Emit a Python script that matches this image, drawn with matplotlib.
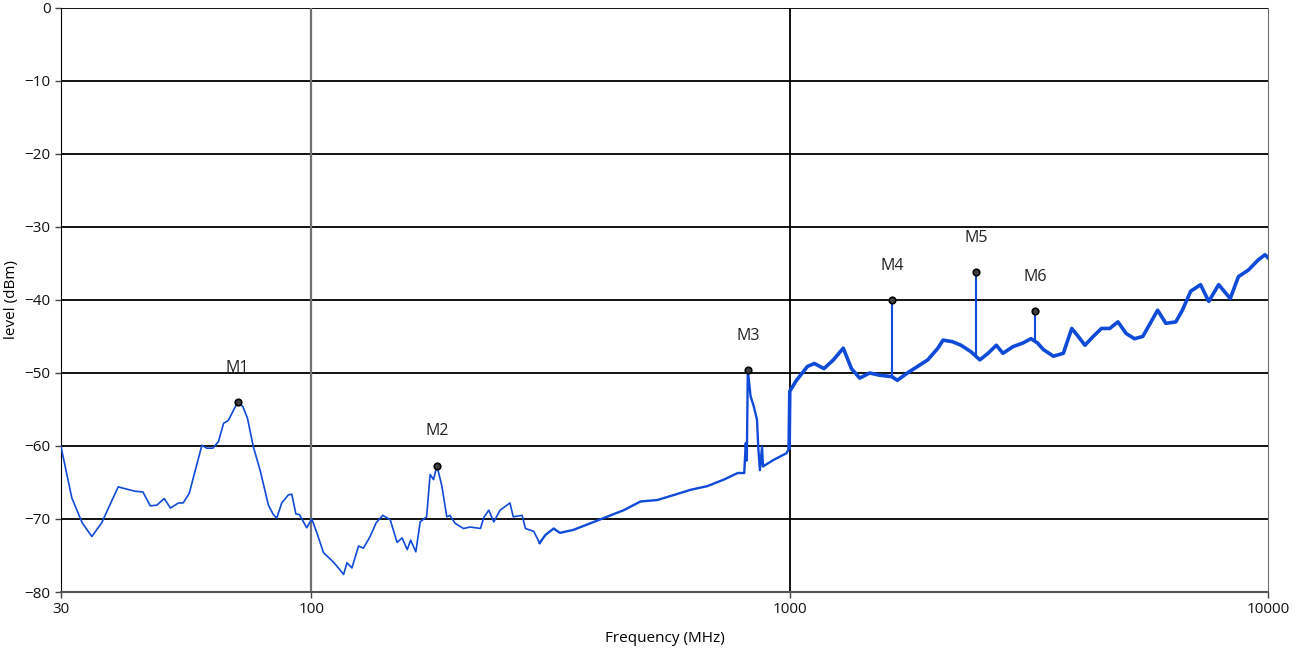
import matplotlib.pyplot as plt

plt.rcParams['font.family'] = ['Open Sans', 'DejaVu Sans']

# Trace (MHz, dBm)
freq_low = [30, 31.6, 33.2, 34.8, 36.5, 39.5, 41.1, 42.9, 44.5, 46.1, 47.6, 49.3,
            50.8, 52.8, 54.0, 55.6, 59.1, 60.5, 62.3, 64.0, 65.6, 67.1, 70.2, 72.0,
            73.6, 75.7, 78.2, 81.4, 83.2, 84.7, 86.8, 89.6, 91.1, 92.9, 94.5, 97.9,
            100.3, 102.8, 106.1, 111.3, 114.0, 116.9, 118.8, 121.7, 125.6, 128.6,
            132.8, 136.8, 141.2, 146.3, 151.2, 154.9, 158.8, 161.4, 165.5, 169.0,
            174.3, 177.3, 180.2, 183.2, 187.6, 192.1, 195, 200.0, 208.1, 215, 225.9,
            229.5, 235.1, 240.9, 248.2, 260.3, 264.5, 276, 280.5, 292, 300.3]
level_low = [-60.1, -67.1, -70.5, -72.4, -70.5, -65.6, -65.9, -66.2, -66.3, -68.2,
             -68.1, -67.2, -68.5, -67.8, -67.8, -66.5, -59.9, -60.3, -60.3, -59.4,
             -56.9, -56.5, -54.0, -54.6, -56.2, -60.1, -63.3, -68.1, -69.3, -69.9,
             -67.8, -66.7, -66.6, -69.3, -69.4, -71.2, -70.0, -71.9, -74.6, -75.9,
             -76.7, -77.6, -76.0, -76.7, -73.7, -74.0, -72.4, -70.5, -69.5, -70.1,
             -73.2, -72.6, -74.2, -72.9, -74.5, -70.4, -69.7, -63.9, -64.6, -62.7,
             -65.5, -69.7, -69.5, -70.6, -71.3, -71.1, -71.3, -69.8, -68.8, -70.4,
             -68.8, -67.8, -69.7, -69.5, -71.3, -71.7, -73.3]

freq_mid = [300.3, 308.6, 321.3, 331, 353, 383, 415, 450, 488, 529, 574, 621, 673,
            729, 779, 804, 810, 814, 818, 829, 842, 855, 860, 867, 876, 880, 926,
            985, 998]
level_mid = [-73.3, -72.2, -71.3, -71.9, -71.5, -70.6, -69.7, -68.8, -67.6, -67.4,
             -66.7, -66.0, -65.5, -64.6, -63.7, -63.7, -59.6, -62.0, -49.6, -53.2,
             -54.6, -56.4, -60.1, -63.3, -60.1, -62.8, -61.9, -61.0, -60.3]

freq_high = [998, 1001, 1034, 1090, 1127, 1180, 1235, 1295, 1347, 1402, 1470, 1541,
             1636, 1680, 1763, 1852, 1945, 2042, 2093, 2187, 2283, 2396, 2499, 2600,
             2705, 2793, 2929, 3073, 3197, 3300, 3394, 3561, 3735, 3889, 4014, 4144,
             4312, 4487, 4669, 4858, 5055, 5260, 5474, 5696, 5880, 6118, 6417, 6624,
             6894, 7230, 7521, 7888, 8340, 8675, 9100, 9545, 9860, 10000]
level_high = [-60.3, -52.5, -51.0, -49.1, -48.7, -49.4, -48.2, -46.6, -49.4, -50.7,
              -50.0, -50.3, -50.5, -51.0, -50.0, -49.1, -48.2, -46.6, -45.5, -45.7,
              -46.2, -47.1, -48.2, -47.3, -46.2, -47.3, -46.4, -45.9, -45.3, -45.9,
              -46.8, -47.7, -47.3, -43.9, -45.0, -46.2, -45.0, -43.9, -43.9, -43.0,
              -44.6, -45.3, -45.0, -43.0, -41.4, -43.2, -43.0, -41.4, -38.8, -37.9,
              -40.2, -37.9, -39.8, -36.8, -35.9, -34.5, -33.8, -34.2]

# Markers
marker_names = ['M1', 'M2', 'M3', 'M4', 'M5', 'M6']
marker_freq = [70.2, 183.2, 818, 1636, 2457, 3265]
marker_level = [-54.0, -62.7, -49.6, -40.0, -36.2, -41.5]
# narrow spikes rising from the noise floor
spike_freq = [1636, 2457, 3265]
spike_base = [-50.5, -47.8, -45.8]
spike_top = [-40.0, -36.2, -41.5]

blue = '#0f4ad8'

fig = plt.figure(figsize=(13.01, 6.54), dpi=100)
ax = fig.add_axes([0.0469, 0.0948, 0.9277, 0.893])

ax.plot(freq_low, level_low, color=blue, lw=1.2, zorder=3)
ax.plot(freq_mid, level_mid, color=blue, lw=1.7, zorder=3)
ax.plot(freq_high, level_high, color=blue, lw=2.6, zorder=3, solid_joinstyle='round')
ax.vlines(spike_freq, spike_base, spike_top, color=blue, lw=1.5, zorder=3)

ax.scatter(marker_freq, marker_level, s=22, facecolor='#404040', edgecolor='black',
           lw=1.2, zorder=5)
for name, f, lv in zip(marker_names, marker_freq, marker_level):
    ax.annotate(name, (f, lv), xytext=(0, 19), textcoords='offset points',
                ha='center', va='bottom', fontsize=11.5, color='#222222')

ax.set_xscale('log')
ax.set_xlim(30, 10000)
ax.set_ylim(-80, 0)
ax.set_xticks([30, 100, 1000, 10000])
ax.set_xticklabels(['30', '100', '1000', '10000'])
ax.minorticks_off()
ax.set_yticks(range(-80, 1, 10))

for y in range(-70, 1, 10):
    ax.axhline(y, color='black', lw=1.3, zorder=1)
ax.axvline(100, color='#707070', lw=1.6, zorder=1)
ax.axvline(1000, color='black', lw=1.3, zorder=1)

ax.spines['left'].set_color('black')
ax.spines['bottom'].set_color('#555555')
ax.spines['bottom'].set_linewidth(1.5)
ax.spines['right'].set_color('#707070')
ax.spines['top'].set_visible(False)

ax.tick_params(axis='both', labelsize=11, length=4, color='#444444', width=1,
               labelcolor='#111111')
ax.set_xlabel('Frequency (MHz)', fontsize=11, labelpad=10)
ax.set_ylabel('level (dBm)', fontsize=11, labelpad=4)

fig.savefig('out.png', dpi=100)
